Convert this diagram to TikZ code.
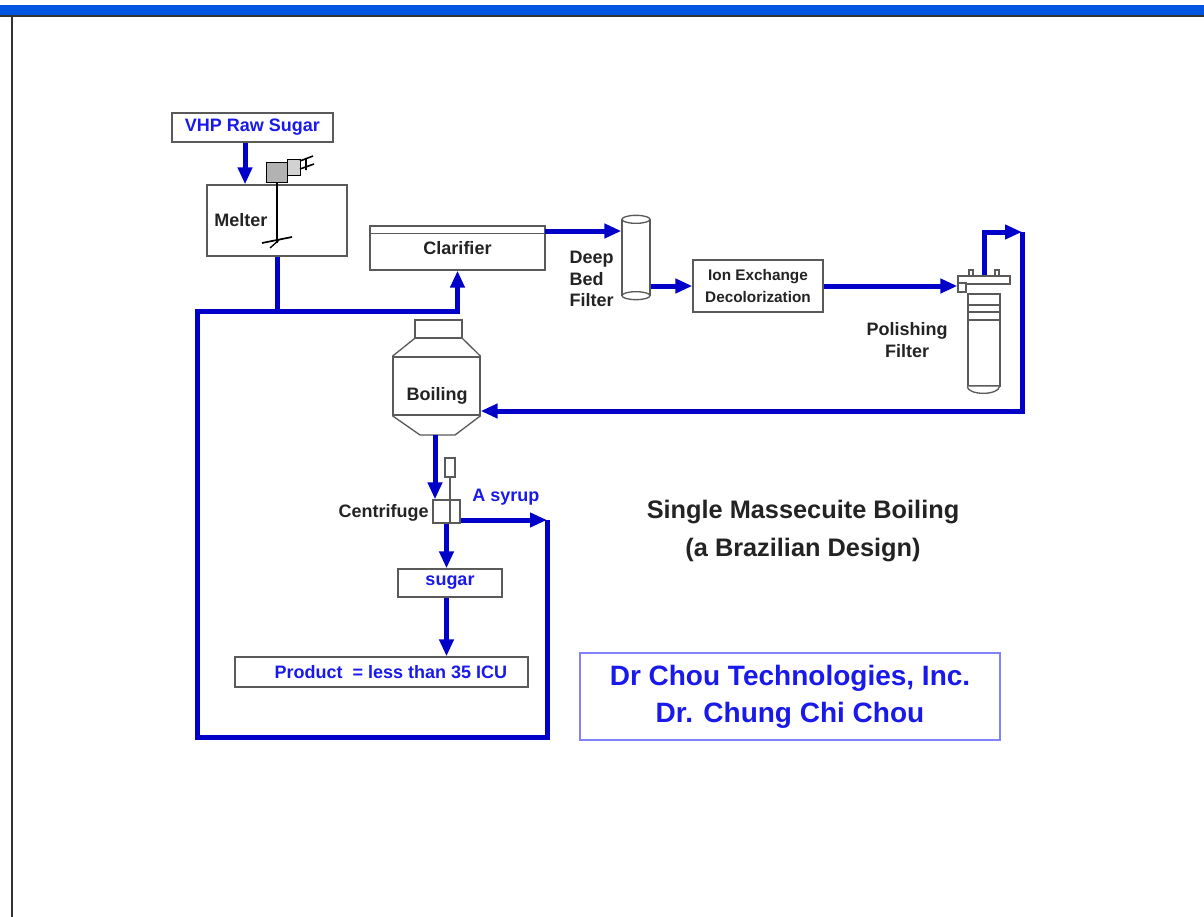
\documentclass[tikz,border=0pt]{standalone}
\usepackage{fontspec}
\setmainfont{Liberation Sans}
\usepackage{tikz}
\usetikzlibrary{arrows.meta,positioning}

\definecolor{pipeblue}{RGB}{0,0,200}
\definecolor{labelblue}{RGB}{25,25,235}
\definecolor{boxgray}{RGB}{90,90,90}
\definecolor{textgray}{RGB}{35,35,35}
\definecolor{barblue}{RGB}{0,85,225}
\definecolor{creditblue}{RGB}{130,130,250}

\begin{document}
\begin{tikzpicture}[
    x=0.75pt, y=-0.75pt,
    font=\fontsize{13.5}{16}\selectfont\bfseries,
    box/.style={rectangle, draw=boxgray, line width=1pt, fill=white, inner sep=0pt,
                text=textgray, align=center},
    pipe/.style={pipeblue, line width=3.75pt},
    flow/.style={pipe, -{Triangle[length=12.75pt,width=10.5pt]}},
    lbl/.style={text=textgray, align=center, inner sep=0pt},
    bluelbl/.style={text=labelblue, inner sep=0pt}
]
\useasboundingbox (0,0) rectangle (1204,917);

% Window frame
\fill[barblue] (0,5) rectangle (1204,15);
\draw[black!80, line width=1.5pt] (0,16) -- (1204,16);
\draw[black!80, line width=1.5pt] (12,16) -- (12,917);

% Raw sugar feed and melter
\node[box, minimum width=120.75pt, minimum height=21.75pt, text=labelblue] (raw) at (252.5,127.5) {VHP Raw Sugar};
\node[box, minimum width=105pt, minimum height=53.25pt] (melter) at (277,220.5) {};
\node[lbl, anchor=west] (meltertext) at (214,220) {Melter};

% Agitator on the melter
\draw[black, fill=gray!60] (266,162) rectangle (287,182);
\draw[black, fill=gray!35] (287,159) rectangle (300,175);
\draw[black, line width=1.2pt] (300,161) -- (313,156) (300,169) -- (314,164) (306,158) -- (306,170);
\draw[black, line width=0.8pt] (277,182) -- (277,243);
\draw[black, line width=1.3pt] (262,243) -- (292,237);
\draw[black, line width=1pt] (270,248) -- (279,240);

% Clarifier
\node[box, minimum width=131.25pt, minimum height=33pt] (clar) at (457.5,248) {\raisebox{-2pt}{Clarifier}};
\draw[boxgray, line width=1pt] (clar.north west) ++(0,8) -- ++(175,0);
\coordinate (clarout) at (545,231);

% Deep bed filter
\node[box, minimum width=21pt, minimum height=56.25pt] (dbf) at (636,257.5) {};
\draw[boxgray, line width=1pt, fill=white] (dbf.north) ellipse [x radius=10.5pt, y radius=3pt];
\draw[boxgray, line width=1pt, fill=white] (dbf.south) ellipse [x radius=10.5pt, y radius=3pt];
\node[lbl, align=left, anchor=east] (dbftext) at (614,279) {Deep\\Bed\\Filter};

% Ion exchange
\node[box, minimum width=97.5pt, minimum height=39pt, font=\fontsize{11.5}{16}\selectfont\bfseries] (ion) at (758,286) {Ion Exchange\\Decolorization};

% Polishing filter
\node[box, minimum width=24pt, minimum height=69pt] (pol) at (984,340) {};
\draw[boxgray, line width=1pt, fill=white] (pol.south west) arc[start angle=180, end angle=360, x radius=12pt, y radius=5pt];
\foreach \yy in {305,312,320}
    \draw[boxgray, line width=0.8pt] (968,\yy) -- (1000,\yy);
\node[box, minimum width=39pt, minimum height=6pt] (polhead) at (984,280) {};
\draw[boxgray, line width=0.8pt, fill=white] (958,283) rectangle (966,292);
\draw[boxgray, line width=0.8pt] (969,270) rectangle (973,276) (995,270) rectangle (999,276);
\node[lbl] (poltext) at (907,340) {Polishing\\Filter};

% Boiling pan
\node[box, minimum width=65.25pt, minimum height=43.5pt] (boil) at (436.5,386) {};
\node[box, minimum width=35.25pt, minimum height=13.5pt] (neck) at (438.5,329) {};
\draw[boxgray, line width=1pt] (neck.south west) -- (boil.north west) (neck.south east) -- (boil.north east);
\draw[boxgray, line width=1pt] (boil.south west) -- (420,435) -- (455,435) -- (boil.south east);
\node[lbl] (boiltext) at (437,396) {Boiling};
\coordinate (boilout) at (435,435);

% Centrifuge
\node[box, minimum width=20.25pt, minimum height=17.25pt] (cent) at (446.5,511.5) {};
\node[box, minimum width=7.5pt, minimum height=14.25pt] (centmotor) at (450,467.5) {};
\draw[boxgray, line width=0.8pt] (centmotor.south) -- (centmotor.south |- cent.south);
\node[lbl, anchor=east] (centtext) at (429,513) {Centrifuge};
\node[bluelbl] (syrtext) at (506,497) {A syrup};

% Sugar and product
\node[box, minimum width=78pt, minimum height=21pt, text=labelblue] (sugar) at (450,583) {sugar};
\node[box, minimum width=219.75pt, minimum height=22.5pt, text=labelblue] (prod) at (381.5,672) {\hspace{14pt}Product \ = less than 35 ICU};

% Loop corners
\coordinate (syr) at (547,520);
\coordinate (loopbr) at (547,737);
\coordinate (loopbl) at (197,737);
\coordinate (looptl) at (197,311);
\coordinate (rt) at (1022,232);
\coordinate (rb) at (1022,411);

% Main flow
\draw[flow] ([xshift=-5.6pt]raw.south) -- ([xshift=-5.6pt]raw.south |- melter.north);
\draw[pipe] (melter.south) -- (melter.south |- looptl);
\draw[flow] (clarout) -- (clarout -| dbf.west);
\draw[flow] (dbf.east |- ion.west) -- (ion.west);
\draw[flow] (ion.east) -- (ion.east -| polhead.west);
\draw[flow] (polhead.north) |- (rt);
\draw[flow] (rt) -- (rb) -- (boil.east |- rb);
\draw[flow] (boilout) -- (boilout |- cent.north);
\draw[flow] (cent.south) -- (cent.south |- sugar.north);
\draw[flow] (sugar.south -| cent.south) -- (cent.south |- prod.north);

% Syrup recycle
\draw[flow] (cent.east |- syr) -- (syr);
\draw[flow] (syr) -- (loopbr) -- (loopbl) -- (looptl) -| (clar.south);

% Title
\node[lbl, font=\fontsize{19}{28.5}\selectfont\bfseries] (title) at (803,531) {Single Massecuite Boiling\\(a Brazilian Design)};

% Credit box
\node[draw=creditblue, line width=1.5pt, minimum width=315pt, minimum height=65.25pt, text=labelblue,
      align=center, font=\fontsize{21}{27.75}\selectfont\bfseries] (credit) at (790,696.5)
      {Dr Chou Technologies, Inc.\\Dr. Chung Chi Chou};

\end{tikzpicture}
\end{document}
